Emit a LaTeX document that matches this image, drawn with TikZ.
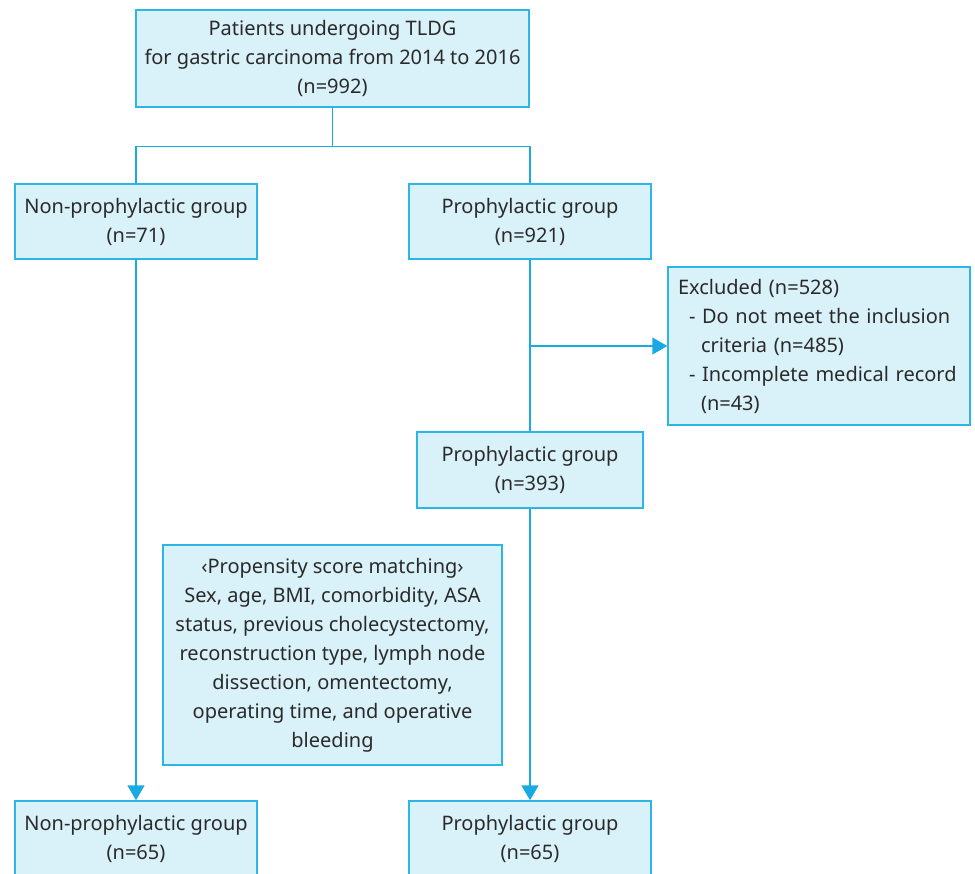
\documentclass[tikz,border=0pt]{standalone}
\usepackage{fontspec}
\setmainfont{Noto Sans}
\usetikzlibrary{arrows.meta}
\definecolor{boxfill}{HTML}{D9F1F9}
\definecolor{boxline}{HTML}{2DB5E6}
\definecolor{conn}{HTML}{1AAAE3}
\definecolor{txt}{HTML}{2A2A2A}
\begin{document}
\begin{tikzpicture}[x=1pt,y=1pt,
  box/.style={draw=boxline,fill=boxfill,line width=1.4pt,align=center,inner sep=0pt,
    text=txt,font=\fontsize{20}{29}\selectfont},
  conline/.style={draw=conn,line width=1.4pt},
  arr/.style={conline,-{Triangle[width=17pt,length=15pt]}}]
\useasboundingbox (0,0) rectangle (975,-874);
\node[box,minimum width=393,minimum height=97] (top) at (332.5,-58.5)
  {Patients undergoing TLDG\\for gastric carcinoma from 2014 to 2016\\(n=992)};
\node[box,minimum width=242,minimum height=75] (nonp) at (136,-221.5)
  {Non-prophylactic group\\(n=71)};
\node[box,minimum width=242,minimum height=75] (proph) at (530,-221.5)
  {Prophylactic group\\(n=921)};
\node[box,minimum width=302,minimum height=158,align=left,text width=282,inner xsep=10pt] (excl) at (819,-346)
  {Excluded (n=528)\\\hspace*{11pt}- Do not meet the inclusion\\\hspace*{23pt}criteria (n=485)\\\hspace*{11pt}- Incomplete medical record\\\hspace*{23pt}(n=43)};
\node[box,minimum width=226,minimum height=76] (proph2) at (530,-470)
  {Prophylactic group\\(n=393)};
\node[box,minimum width=339,minimum height=220] (psm) at (332.5,-655)
  {‹Propensity score matching›\\Sex, age, BMI, comorbidity, ASA\\status, previous cholecystectomy,\\reconstruction type, lymph node\\dissection, omentectomy,\\operating time, and operative\\bleeding};
\node[box,minimum width=242,minimum height=75] (bl) at (136,-838.5)
  {Non-prophylactic group\\(n=65)};
\node[box,minimum width=242,minimum height=75] (br) at (530,-838.5)
  {Prophylactic group\\(n=65)};
\draw[conline] (top.south) -- ++(0,-39) coordinate (sp);
\draw[conline] (sp) -| (nonp.north);
\draw[conline] (sp) -| (proph.north);
\draw[arr] (nonp.south) -- (bl.north);
\draw[conline] (proph.south) -- (proph2.north);
\draw[arr] (proph.south |- excl.west) -- (excl.west);
\draw[arr] (proph2.south) -- (br.north);
\end{tikzpicture}
\end{document}
